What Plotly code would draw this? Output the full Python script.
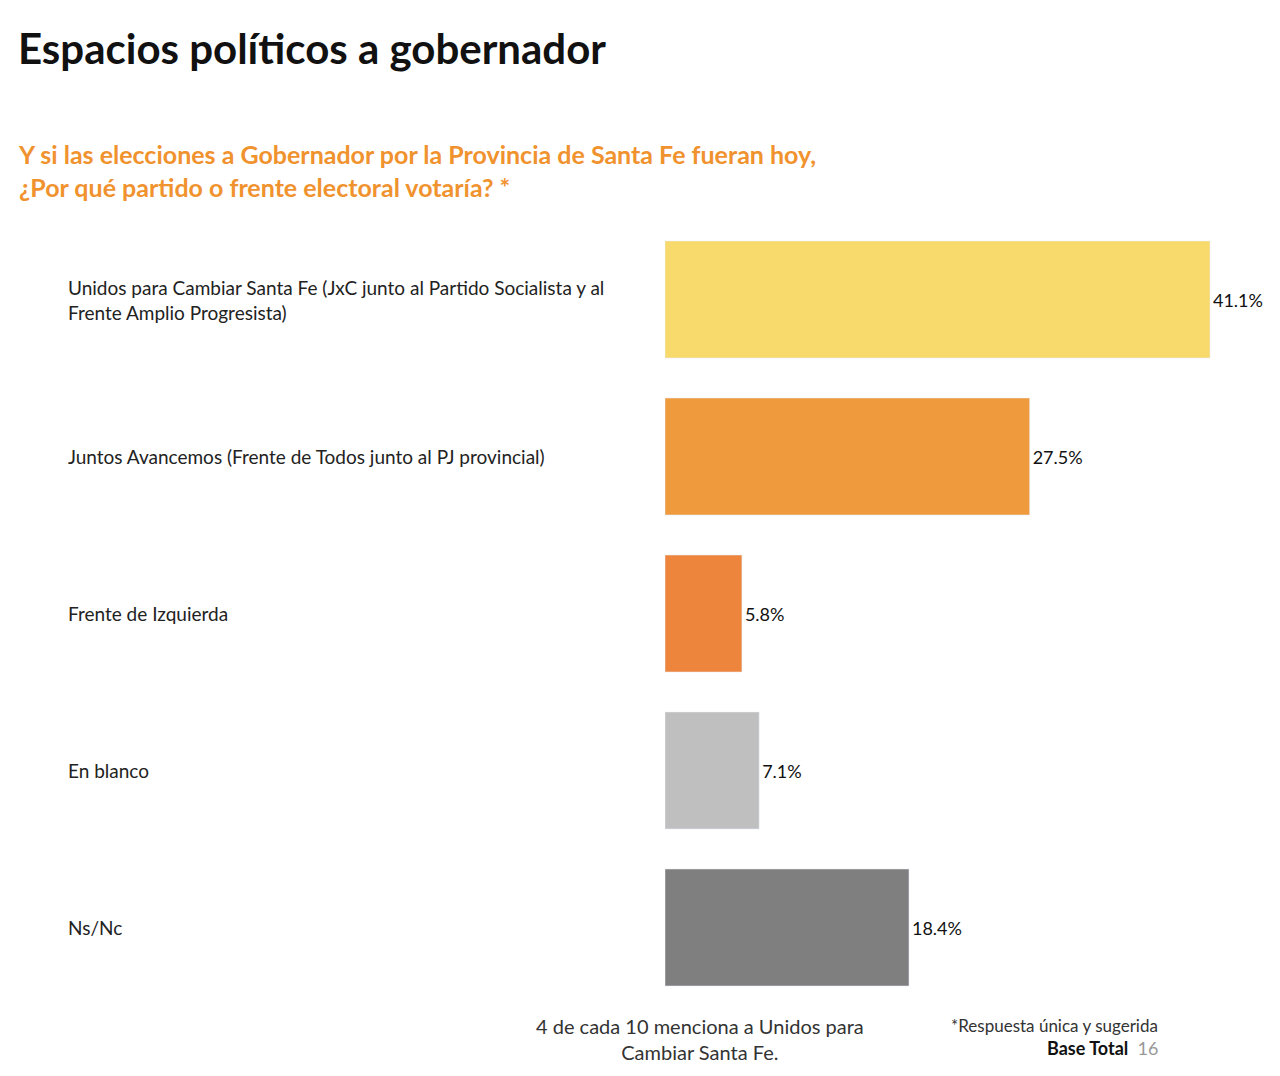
import plotly.graph_objects as go

categories = ["Unidos para Cambiar Santa Fe (JxC junto al Partido Socialista y al<br>Frente Amplio Progresista)",
              "Juntos Avancemos (Frente de Todos junto al PJ provincial)",
              "Frente de Izquierda", "En blanco", "Ns/Nc"]
values = [41.1, 27.5, 5.8, 7.1, 18.4]
colors = ["#F8D96B", "#F09A3E", "#EE853C", "#BFBFBF", "#7F7F7F"]
ykeys = ["c0", "c1", "c2", "c3", "c4"]

W, H = 1280, 1076
L, R, T, B = 657, 10, 213, 78
pw = W - L - R
fig = go.Figure(go.Bar(
    x=values, y=ykeys, orientation="h", marker_color=colors, width=0.745,
    text=[f"{v:.1f}%" for v in values], textposition="outside", cliponaxis=False,
    textfont=dict(family="Lato", size=18, color="#111111"), hoverinfo="skip"))

for k, c in zip(ykeys, categories):
    fig.add_annotation(x=(58 - L) / pw, xref="paper", y=k, yref="y", text=c, showarrow=False,
                       xanchor="left", align="left",
                       font=dict(family="Lato", size=19, color="#222222"))

def px(x, y, text, size, color, xa="left", bold=False, align="left"):
    fig.add_annotation(x=(x - L) / pw, y=(H - B - y) / (H - T - B), xref="paper", yref="paper",
                       text=f"<b>{text}</b>" if bold else text, showarrow=False, xanchor=xa,
                       yanchor="middle", align=align, font=dict(family="Lato", size=size, color=color))

px(8, 40, "Espacios políticos a gobernador", 42, "#111111", bold=True)
px(8, 162, "Y si las elecciones a Gobernador por la Provincia de Santa Fe fueran hoy,<br>¿Por qué partido o frente electoral votaría? *",
   25, "#F0922E", bold=True)
px(692, 1031, "4 de cada 10 menciona a Unidos para<br>Cambiar Santa Fe.", 20, "#333333", xa="center", align="center")
px(1152, 1017, "*Respuesta única y sugerida", 17, "#333333", xa="right")
px(1152, 1040, "<b>Base Total</b>  <span style='color:#999999'>16</span>", 18, "#111111", xa="right")

fig.update_layout(
    width=W, height=H, margin=dict(l=L, r=R, t=T, b=B),
    plot_bgcolor="white", paper_bgcolor="white", showlegend=False, bargap=0.255,
    xaxis=dict(range=[0, pw / 13.26], visible=False),
    yaxis=dict(categoryorder="array", categoryarray=ykeys, autorange="reversed", visible=False))
fig.write_html("out.html")
